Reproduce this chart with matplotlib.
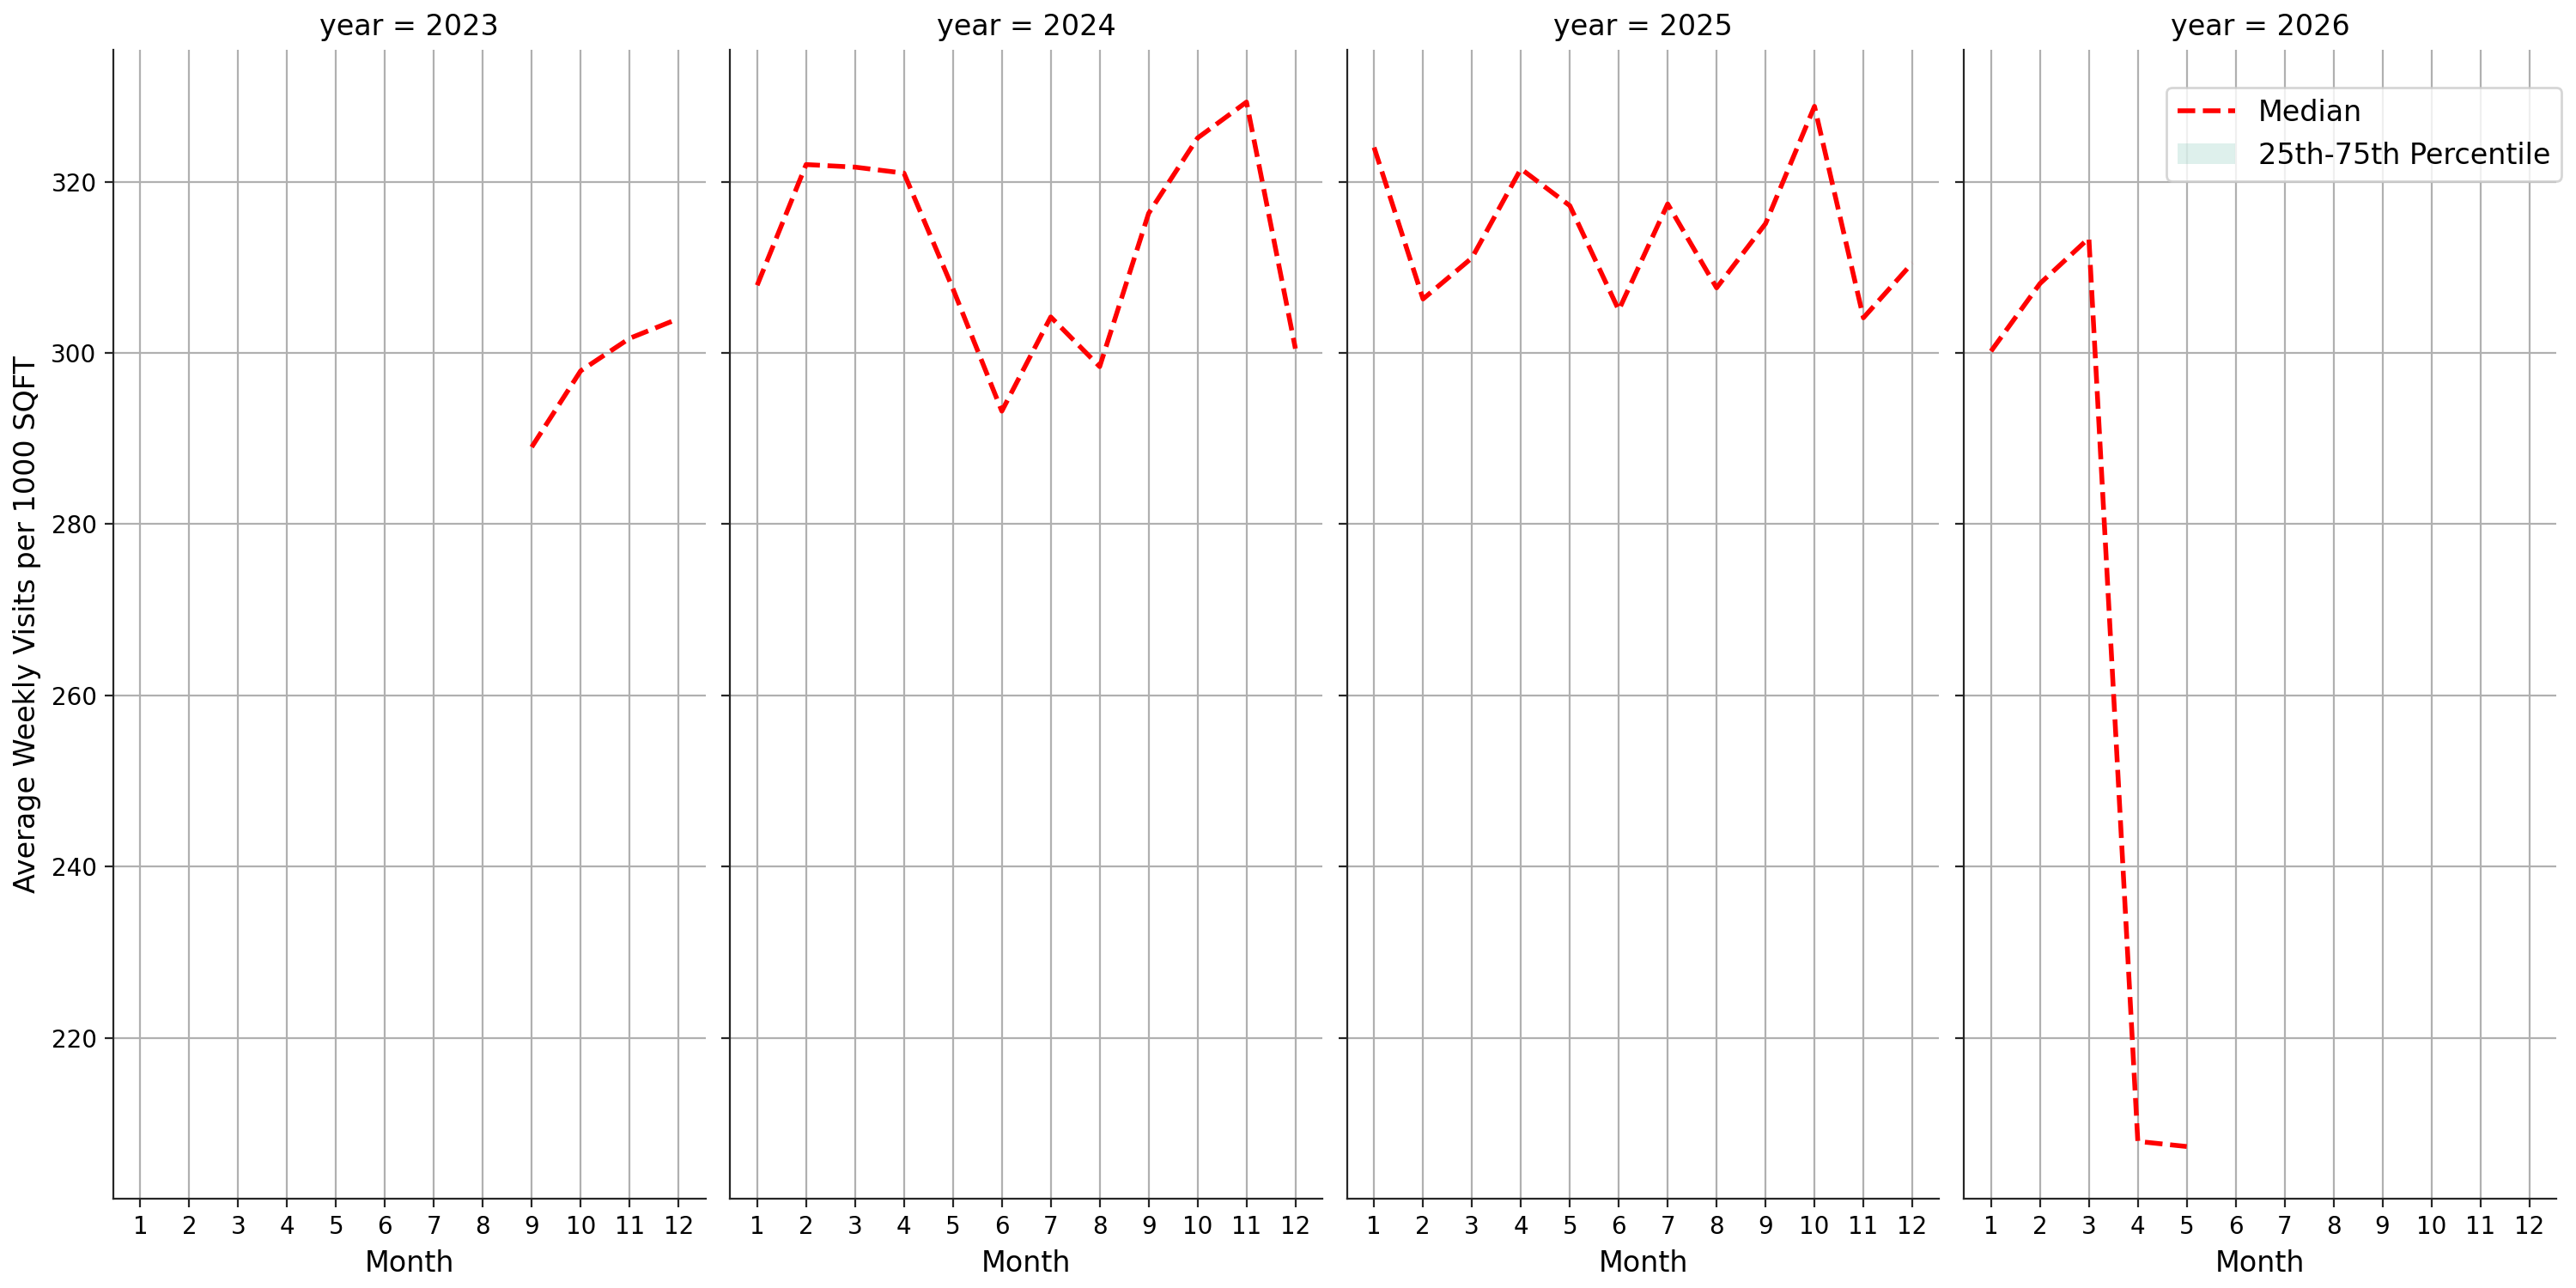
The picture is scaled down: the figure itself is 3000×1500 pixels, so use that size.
import matplotlib
matplotlib.use("Agg")
import matplotlib.pyplot as plt
from matplotlib.patches import Patch
import numpy as np

# median weekly visits per 1000 sqft, by year and month
years = [2023, 2024, 2025, 2026]
months_2023 = [9, 10, 11, 12]
median_2023 = [289.0, 297.9, 301.7, 304.0]
months_2024 = [1, 2, 3, 4, 5, 6, 7, 8, 9, 10, 11, 12]
median_2024 = [307.9, 322.0, 321.7, 321.0, 307.5, 293.2, 304.2, 298.4, 316.3, 325.1, 329.3, 300.5]
months_2025 = [1, 2, 3, 4, 5, 6, 7, 8, 9, 10, 11, 12]
median_2025 = [324.0, 306.3, 311.1, 321.5, 317.2, 305.0, 317.4, 307.6, 315.1, 328.8, 304.1, 310.5]
months_2026 = [1, 2, 3, 4, 5]
median_2026 = [300.2, 308.1, 313.4, 207.9, 207.3]

series = {
    2023: (months_2023, median_2023),
    2024: (months_2024, median_2024),
    2025: (months_2025, median_2025),
    2026: (months_2026, median_2026),
}
month_ticks = list(range(1, 13))

plt.rcParams['font.family'] = 'DejaVu Sans'

fig, axes = plt.subplots(1, 4, sharey=True, figsize=(15, 7.5))
fig.subplots_adjust(left=0.044, right=0.9923, bottom=0.0693, top=0.9613, wspace=0.042)

for ax, yr in zip(axes, years):
    mx, my = series[yr]
    ax.plot(mx, my, '--', color='red', linewidth=2, label='Median')
    ax.set_xticks(month_ticks)
    ax.set_xlim(0.45, 12.55)
    ax.grid(True, color='#b0b0b0', linewidth=0.8)
    ax.set_axisbelow(True)
    ax.set_title("year = " + str(yr), fontsize=12)
    ax.set_xlabel("Month", fontsize=12)
    ax.tick_params(labelsize=10, color='#262626')
    for side in ['top', 'right']:
        ax.spines[side].set_visible(False)
    for side in ['left', 'bottom']:
        ax.spines[side].set_color('#262626')

axes[0].set_ylabel("Average Weekly Visits per 1000 SQFT", fontsize=12)
axes[0].set_yticks([220, 240, 260, 280, 300, 320])

handles = [plt.Line2D([], [], linestyle='--', color='red', linewidth=2),
           Patch(facecolor='#5ab4a0', alpha=0.2, edgecolor='none')]
fig.legend(handles, ['Median', '25th-75th Percentile'], loc='upper right',
           bbox_to_anchor=(1.0, 0.9433), fontsize=12)

plt.savefig('out.png', dpi=200)
plt.close()
